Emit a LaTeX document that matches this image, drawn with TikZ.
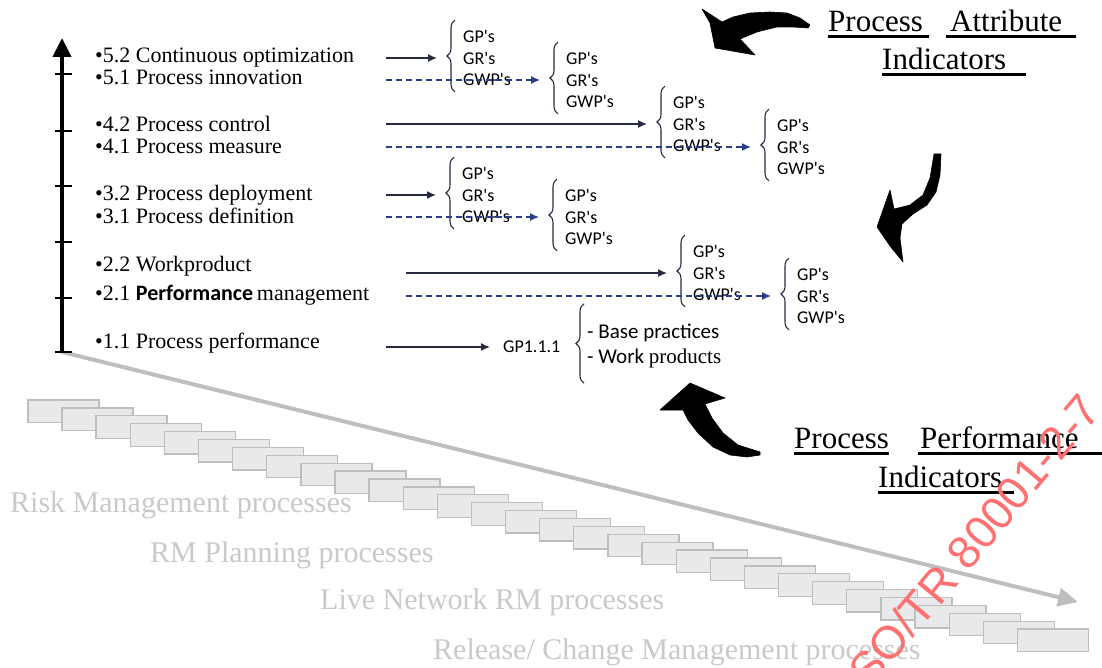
\documentclass[tikz,border=0pt]{standalone}
\usepackage{fontspec}
\setmainfont{Liberation Serif}
\newfontfamily\calfont{Carlito}
\newfontfamily\wmfont{Liberation Sans}
\usetikzlibrary{arrows.meta, decorations.pathreplacing}

\definecolor{navy}{HTML}{252A3F}
\definecolor{dashblue}{HTML}{2A3D8D}
\definecolor{stairfill}{HTML}{E9E9EB}
\definecolor{stairline}{HTML}{BEBEC0}
\definecolor{fadetext}{HTML}{C9C9C9}
\definecolor{wmred}{HTML}{FF7070}

\tikzset{
  lvl/.style={anchor=base west, inner sep=0pt, font=\fontsize{22}{24}\selectfont},
  attr/.style={anchor=west, align=left, inner sep=0pt, font=\calfont\fontsize{18}{21.5}\selectfont},
  attrbrace/.style={decorate, decoration={brace, amplitude=8pt}, line width=1.1pt, navy},
  solidarr/.style={-{Latex[length=9pt,width=8pt]}, navy, line width=1.4pt, shorten >=26pt},
  dasharr/.style={-{Latex[length=9pt,width=8pt]}, dashblue, line width=1.4pt, dash pattern=on 6pt off 4pt, shorten >=26pt},
  stair/.style={draw=stairline, fill=stairfill, line width=1.3pt},
  procname/.style={anchor=base west, inner sep=0pt, text=fadetext, font=\fontsize{30}{32}\selectfont},
  title/.style={anchor=base west, inner sep=0pt, font=\fontsize{31}{34}\selectfont},
  uline/.style={line width=3pt},
  bigarrow/.style={fill=black, draw=black, line width=0.6pt, line join=round},
}

% one GP's/GR's/GWP's set with its brace
\newcommand\attrset[3]{%
  \node[attr] (#1) at (#2,#3) {GP's\\GR's\\GWP's};
  \draw[attrbrace] ([xshift=-8pt,yshift=-6pt]#1.south west) -- ([xshift=-8pt,yshift=10pt]#1.north west);
}

\begin{document}
\begin{tikzpicture}[x=1pt,y=-1pt]
\useasboundingbox (0,0) rectangle (1102,668);
\clip (0,0) rectangle (1102,668);

% staircase of processes
\foreach \i in {0,...,29}
  \draw[stair] ({27.9+34.12*\i},{400+7.9*\i}) rectangle +(71,22.5);

\node[procname] (rm) at (10,512) {Risk Management processes};
\node[procname] (rmp) at (150,562) {RM Planning processes};
\node[procname] (lnp) at (320,609) {Live Network RM processes};
\node[procname] (rcp) at (433,659) {Release/ Change Management processes};

% axes
\coordinate (orig) at (62,352);
\coordinate (top) at (62,38);
\coordinate (far) at (1078,602);
\draw[stairline, line width=4pt, -{Triangle[length=20pt,width=18pt]}] (orig) -- (far);
\draw[black, line width=4pt, -{Triangle[length=19pt,width=18pt]}] (orig) -- (top);
\foreach \ty in {74,131,186,242,298,352}
  \draw[line width=2pt] (55,\ty) -- (72,\ty);

% capability levels
\node[lvl] (l52) at (95,63) {\textbullet5.2 Continuous optimization};
\node[lvl] (l51) at (95,85) {\textbullet5.1 Process innovation};
\node[lvl] (l42) at (95,132) {\textbullet4.2 Process control};
\node[lvl] (l41) at (95,154) {\textbullet4.1 Process measure};
\node[lvl] (l32) at (95,201) {\textbullet3.2 Process deployment};
\node[lvl] (l31) at (95,224) {\textbullet3.1 Process definition};
\node[lvl] (l22) at (95,271) {\textbullet2.2 Workproduct};
\node[lvl] (l21) at (95,300) {\textbullet2.1 {\calfont\bfseries Performance}\,management};
\node[lvl] (l11) at (95,348) {\textbullet1.1 Process performance};

% indicator sets
\attrset{g1}{463}{58}
\attrset{g2}{566}{80}
\attrset{g3}{673}{124}
\attrset{g4}{777}{147}
\attrset{g5}{462}{195}
\attrset{g6}{565}{217}
\attrset{g7}{693}{273}
\attrset{g8}{797}{296}

\node[anchor=west, inner sep=0pt, font=\calfont\fontsize{18}{21}\selectfont] (gp111) at (503,347) {GP1.1.1};
\node[anchor=west, align=left, inner sep=0pt, font=\calfont\fontsize{21}{25}\selectfont] (bp) at (587,346)
  {- Base practices\\- Work {\rmfamily\fontsize{21}{25}\selectfont products}};
\draw[attrbrace] ([xshift=-3pt,yshift=-15pt]bp.south west) -- ([xshift=-3pt,yshift=20pt]bp.north west);

% connectors
\coordinate (lft) at (386,0);
\coordinate (lft2) at (406,0);
\draw[solidarr] (lft |- g1.west) -- (g1.west);
\draw[dasharr] (lft |- g2.west) -- (g2.west);
\draw[solidarr] (lft |- g3.west) -- (g3.west);
\draw[dasharr] (lft |- g4.west) -- (g4.west);
\draw[solidarr] (lft |- g5.west) -- (g5.west);
\draw[dasharr] (lft |- g6.west) -- (g6.west);
\draw[solidarr] (lft2 |- g7.west) -- (g7.west);
\draw[dasharr] (lft2 |- g8.west) -- (g8.west);
\draw[solidarr, shorten >=13pt] (lft |- gp111.west) -- (gp111.west);

% titles
\node[title] (t1a) at (828,32) {Process};
\node[title] (t1b) at (950,32) {Attribute};
\node[title] (t1c) at (882,70) {Indicators};
\draw[uline] ([yshift=-5pt]t1a.base west) -- ([xshift=6pt,yshift=-5pt]t1a.base east);
\draw[uline] ([xshift=-4pt,yshift=-5pt]t1b.base west) -- ([xshift=14pt,yshift=-5pt]t1b.base east);
\draw[uline] ([yshift=-5pt]t1c.base west) -- ([xshift=20pt,yshift=-5pt]t1c.base east);

\node[title] (t2a) at (794,448) {Process};
\node[title] (t2b) at (920,448) {Performance};
\node[title] (t2c) at (878,487) {Indicators};
\draw[uline] ([yshift=-5pt]t2a.base west) -- ([yshift=-5pt]t2a.base east);
\draw[uline] ([xshift=-2pt,yshift=-5pt]t2b.base west) -- ([xshift=24pt,yshift=-5pt]t2b.base east);
\draw[uline] ([yshift=-5pt]t2c.base west) -- ([xshift=12pt,yshift=-5pt]t2c.base east);

% curved block arrows
\filldraw[bigarrow] (808,28) -- (810,25) -- (800,18) -- (787,13) -- (770,12) -- (750,13) -- (733,17) -- (722,22)
  -- (702,9) -- (710,23) -- (715,48) -- (755,55) -- (740,39) -- (757,32) -- (777,27) -- (793,27) -- cycle;
\filldraw[bigarrow] (934,154) -- (941,154) -- (940,175) -- (936,192) -- (927,205) -- (913,214) -- (902,224)
  -- (900,238) -- (903,262) -- (890,246) -- (877,227) -- (890,190) -- (894,209) -- (910,205) -- (923,195)
  -- (930,178) -- cycle;
\filldraw[bigarrow] (690,383) -- (725,398) -- (705,404) -- (712,418) -- (723,433) -- (738,445) -- (760,452)
  -- (760,455) -- (747,457) -- (730,455) -- (713,447) -- (698,433) -- (688,420) -- (683,410) -- (660,410) -- cycle;

% watermark
\node[rotate=50, inner sep=0pt, text=wmred, font=\wmfont\fontsize{46}{46}\selectfont] (wm) at (970,545) {ISO/TR 80001-2-7};
\end{tikzpicture}
\end{document}
